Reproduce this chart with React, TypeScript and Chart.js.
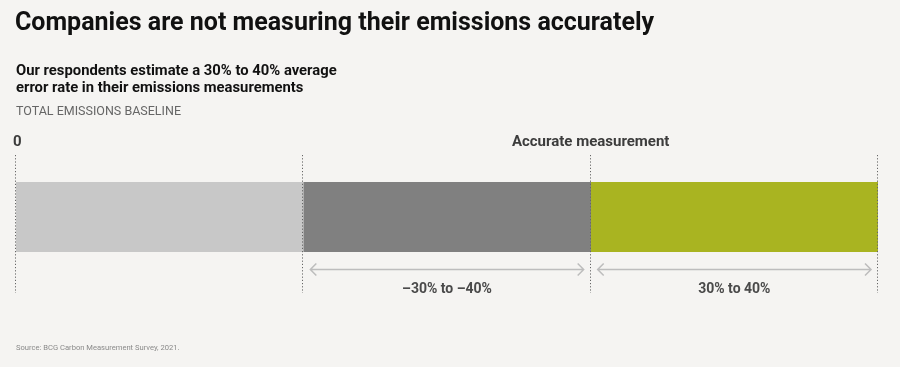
import React, { useEffect, useRef } from "react";
import { Chart, registerables } from "chart.js";

Chart.register(...registerables);

// ---- data ----
const categories = ["Total emissions baseline"];
const segmentNames = ["Measured baseline", "Under-estimate", "Over-estimate"];
const segmentValues = [1, 1, 1];
const segmentColors = ["#c8c8c8", "#808080", "#a9b421"];
const titleText = "Companies are not measuring their emissions accurately";
const subtitleLines = [
  "Our respondents estimate a 30% to 40% average",
  "error rate in their emissions measurements",
];
const axisTitle = "TOTAL EMISSIONS BASELINE";
const markerLabels = [
  { value: 0, text: "0", align: "left" as CanvasTextAlign },
  { value: 2, text: "Accurate measurement", align: "center" as CanvasTextAlign },
];
const rangeLabels = [
  { from: 1, to: 2, text: "\u201330% to \u201340%" },
  { from: 2, to: 3, text: "30% to 40%" },
];
const sourceText = "Source: BCG Carbon Measurement Survey, 2021.";

const FONT = "Roboto, 'Noto Sans', sans-serif";

const overlayPlugin = {
  id: "overlay",
  afterDraw(chart: any) {
    const ctx: CanvasRenderingContext2D = chart.ctx;
    const xs = chart.scales.x;
    const area = chart.chartArea;
    ctx.save();
    // headings
    ctx.textBaseline = "alphabetic";
    ctx.textAlign = "left";
    ctx.fillStyle = "#111111";
    ctx.font = `bold 25px ${FONT}`;
    ctx.fillText(titleText, 15, 30);
    ctx.font = `bold 14.8px ${FONT}`;
    ctx.fillStyle = "#111111";
    ctx.fillText(subtitleLines[0], 16, 75);
    ctx.fillText(subtitleLines[1], 16, 92);
    ctx.font = `12.5px ${FONT}`;
    ctx.fillStyle = "#666666";
    ctx.fillText(axisTitle, 16, 115);

    // dotted boundaries
    const bounds: number[] = [0];
    segmentValues.forEach((v, i) => bounds.push(bounds[i] + v));
    ctx.strokeStyle = "#666666";
    ctx.lineWidth = 1;
    ctx.setLineDash([1.2, 2]);
    bounds.forEach((b) => {
      const px = Math.round(xs.getPixelForValue(b)) - 0.5;
      ctx.beginPath();
      ctx.moveTo(px, area.top - 27);
      ctx.lineTo(px, area.bottom + 41);
      ctx.stroke();
    });
    ctx.setLineDash([]);

    // marker labels
    ctx.font = `bold 15px ${FONT}`;
    ctx.fillStyle = "#3c3c3c";
    markerLabels.forEach((m) => {
      const px = xs.getPixelForValue(m.value);
      ctx.textAlign = m.align;
      ctx.fillText(m.text, m.align === "left" ? px - 3 : px, area.top - 36);
    });

    // range arrows
    const ay = area.bottom + 17.5;
    rangeLabels.forEach((r) => {
      const x1 = xs.getPixelForValue(r.from) + 7;
      const x2 = xs.getPixelForValue(r.to) - 7;
      ctx.strokeStyle = "#bdbdbd";
      ctx.lineWidth = 1.5;
      ctx.beginPath();
      ctx.moveTo(x1, ay);
      ctx.lineTo(x2, ay);
      ctx.moveTo(x1 + 6, ay - 6);
      ctx.lineTo(x1, ay);
      ctx.lineTo(x1 + 6, ay + 6);
      ctx.moveTo(x2 - 6, ay - 6);
      ctx.lineTo(x2, ay);
      ctx.lineTo(x2 - 6, ay + 6);
      ctx.stroke();
      ctx.font = `bold 14px ${FONT}`;
      ctx.fillStyle = "#4a4a4a";
      ctx.textAlign = "center";
      ctx.fillText(r.text, (x1 + x2) / 2, area.bottom + 41);
    });

    // source
    ctx.textAlign = "left";
    ctx.font = `7.6px ${FONT}`;
    ctx.fillStyle = "#8a8a8a";
    ctx.fillText(sourceText, 16, 350);
    ctx.restore();
  },
};

const bgPlugin = {
  id: "bg",
  beforeDraw(chart: any) {
    const ctx = chart.ctx;
    ctx.save();
    ctx.fillStyle = "#f5f4f2";
    ctx.fillRect(0, 0, chart.width, chart.height);
    ctx.restore();
  },
};

export default function App() {
  const ref = useRef<HTMLCanvasElement | null>(null);
  useEffect(() => {
    document.body.style.margin = "0";
    document.body.style.background = "#f5f4f2";
    const total = segmentValues.reduce((a, b) => a + b, 0);
    const chart = new Chart(ref.current!, {
      type: "bar",
      data: {
        labels: categories,
        datasets: segmentValues.map((v, i) => ({
          label: segmentNames[i],
          data: [v],
          backgroundColor: segmentColors[i],
          borderWidth: 0,
          barPercentage: 1,
          categoryPercentage: 1,
        })),
      },
      options: {
        indexAxis: "y",
        responsive: false,
        animation: false,
        devicePixelRatio: 1,
        layout: { padding: { left: 16, right: 22, top: 182, bottom: 115 } },
        plugins: { legend: { display: false }, tooltip: { enabled: false } },
        scales: {
          x: { stacked: true, min: 0, max: total, display: false },
          y: { stacked: true, display: false },
        },
      },
      plugins: [bgPlugin, overlayPlugin],
    });
    return () => chart.destroy();
  }, []);
  return (
    <div style={{ width: 900, height: 367 }}>
      <canvas ref={ref} width={900} height={367} style={{ display: "block" }} />
    </div>
  );
}
